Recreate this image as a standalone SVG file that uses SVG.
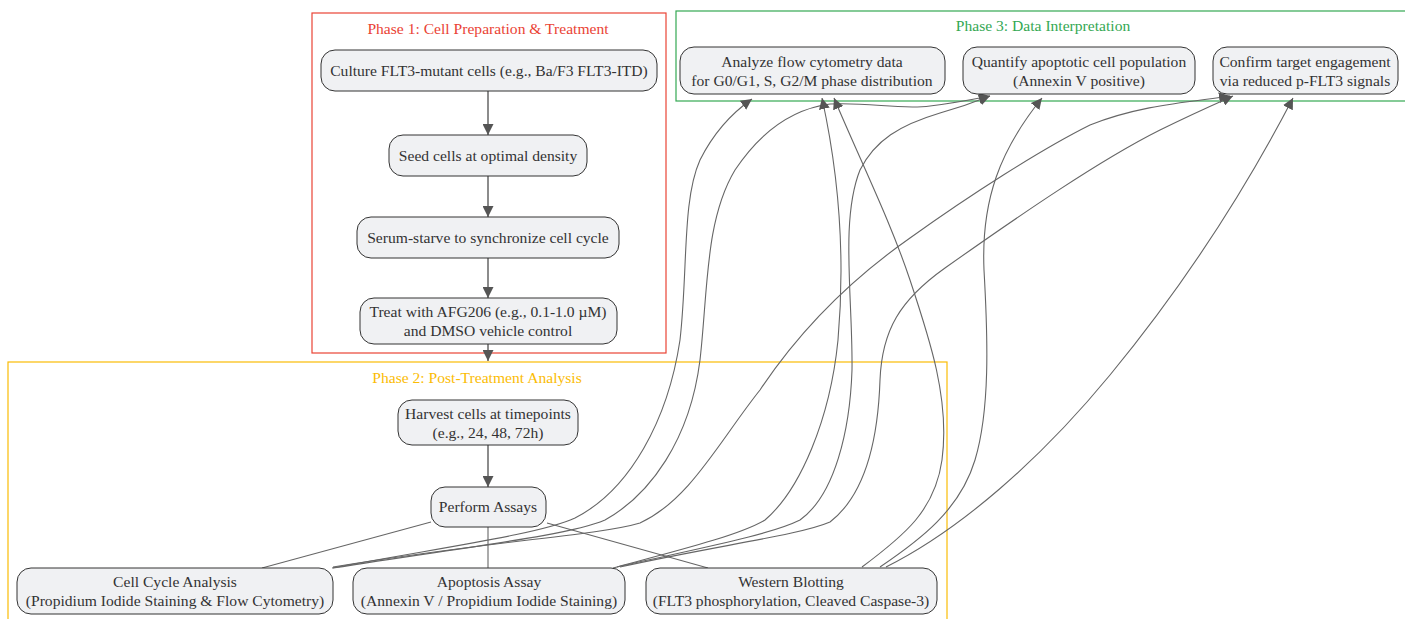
<svg xmlns="http://www.w3.org/2000/svg" width="1405" height="619" viewBox="0 0 1405 619">
<style>
.node rect{fill:#f0f1f3;stroke:#333;stroke-width:1}
.node text{font-family:"Liberation Serif","Times New Roman",serif;font-size:15.6px;fill:#333;text-anchor:middle}
.cluster rect{fill:none;stroke-width:1.2}
.cluster text{font-family:"Liberation Serif","Times New Roman",serif;font-size:15.6px;text-anchor:middle}
.edges path{fill:none;stroke:#666;stroke-width:1.1}
.edges path.arrow{marker-end:url(#pt)}
.edges path.str{stroke-width:1.5}
</style>
<defs>
<marker id="pt" viewBox="0 0 10 10" refX="10" refY="5" markerWidth="11" markerHeight="11" markerUnits="userSpaceOnUse" orient="auto">
<path d="M0,0 L10,5 L0,10 z" fill="#555"/>
</marker>
</defs>
<rect width="1405" height="619" fill="#fff"/>
<g class="cluster" id="phase1"><rect x="312" y="13" width="354" height="340" stroke="#EA4335"/><text x="488" y="34" fill="#EA4335">Phase 1: Cell Preparation &amp; Treatment</text></g>
<g class="cluster" id="phase2"><rect x="8" y="362" width="939" height="290" stroke="#FBBC05"/><text x="477" y="383" fill="#FBBC05">Phase 2: Post-Treatment Analysis</text></g>
<g class="cluster" id="phase3"><rect x="676" y="11" width="730" height="90" stroke="#34A853"/><text x="1043" y="31" fill="#34A853">Phase 3: Data Interpretation</text></g>
<g class="edges">
<path class="arrow str" d="M488,91 L488,135"/>
<path class="arrow str" d="M488,176 L488,217"/>
<path class="arrow str" d="M488,258 L488,298"/>
<path class="arrow str" d="M488,344 L488,361"/>
<path class="arrow str" d="M488,445 L488,487"/>
<path d="M431,522 L262,568"/>
<path d="M488,527 L488,568"/>
<path d="M547,523 L708,568"/>
<path class="arrow" d="M332,568 C450,546 540,534 575,518 C630,490 668,420 680,340 C688,270 682,200 700,160 C714,132 732,113 752,99"/>
<path class="arrow" d="M333,568 C480,545 570,535 605,520 C650,495 690,440 700,360 C708,290 705,220 735,170 C765,125 800,108 830,104 C870,102 900,110 930,106 C955,103 975,99 990,96"/>
<path class="arrow" d="M333,567 C500,540 600,535 640,523 C690,500 720,440 760,390 C800,330 850,280 910,238 C970,195 1040,150 1090,125 C1140,105 1190,102 1230,96"/>
<path class="arrow" d="M613,568 C680,550 740,535 765,520 C800,490 830,420 838,340 C845,260 840,180 822,98"/>
<path class="arrow" d="M617,567 C700,548 770,535 800,520 C835,495 850,430 852,370 C853,300 840,220 860,170 C875,140 900,125 940,113 C965,106 980,100 990,96"/>
<path class="arrow" d="M620,567 C720,545 800,535 830,522 C865,495 878,440 880,380 C882,330 900,300 945,268 C1020,215 1100,160 1160,130 C1190,115 1215,104 1233,96"/>
<path class="arrow" d="M862,567 C905,535 935,510 942,460 C950,400 930,340 910,280 C890,220 860,160 834,98"/>
<path class="arrow" d="M880,567 C920,540 960,510 975,460 C990,410 988,340 984,270 C981,200 1000,150 1042,98"/>
<path class="arrow" d="M886,567 C960,530 1040,460 1110,375 C1180,290 1240,200 1293,98"/>
</g>
<g class="node" id="culture"><rect x="321" y="50" width="336" height="41" rx="14"/><text x="489" y="76">Culture FLT3-mutant cells (e.g., Ba/F3 FLT3-ITD)</text></g>
<g class="node" id="seed"><rect x="389" y="135" width="198" height="41" rx="14"/><text x="488" y="161">Seed cells at optimal density</text></g>
<g class="node" id="starve"><rect x="357" y="217" width="262" height="41" rx="14"/><text x="488" y="243">Serum-starve to synchronize cell cycle</text></g>
<g class="node" id="treat"><rect x="360" y="298" width="257" height="46" rx="14"/><text x="488" y="317">Treat with AFG206 (e.g., 0.1-1.0 µM)</text><text x="488" y="336">and DMSO vehicle control</text></g>
<g class="node" id="harvest"><rect x="398" y="400" width="180" height="45" rx="14"/><text x="488" y="419">Harvest cells at timepoints</text><text x="488" y="438">(e.g., 24, 48, 72h)</text></g>
<g class="node" id="perform"><rect x="431" y="487" width="115" height="40" rx="14"/><text x="488" y="512">Perform Assays</text></g>
<g class="node" id="cellcycle"><rect x="17" y="568" width="316" height="46" rx="14"/><text x="175" y="587">Cell Cycle Analysis</text><text x="175" y="606">(Propidium Iodide Staining &amp; Flow Cytometry)</text></g>
<g class="node" id="apoptosis"><rect x="353" y="568" width="272" height="46" rx="14"/><text x="489" y="587">Apoptosis Assay</text><text x="489" y="606">(Annexin V / Propidium Iodide Staining)</text></g>
<g class="node" id="western"><rect x="646" y="568" width="291" height="46" rx="14"/><text x="791" y="587">Western Blotting</text><text x="791" y="606">(FLT3 phosphorylation, Cleaved Caspase-3)</text></g>
<g class="node" id="analyze"><rect x="680" y="47" width="265" height="47" rx="14"/><text x="812" y="67">Analyze flow cytometry data</text><text x="812" y="86">for G0/G1, S, G2/M phase distribution</text></g>
<g class="node" id="quantify"><rect x="963" y="47" width="232" height="47" rx="14"/><text x="1079" y="67">Quantify apoptotic cell population</text><text x="1079" y="86">(Annexin V positive)</text></g>
<g class="node" id="confirm"><rect x="1213" y="47" width="185" height="47" rx="14"/><text x="1305" y="67">Confirm target engagement</text><text x="1305" y="86">via reduced p-FLT3 signals</text></g>
</svg>
